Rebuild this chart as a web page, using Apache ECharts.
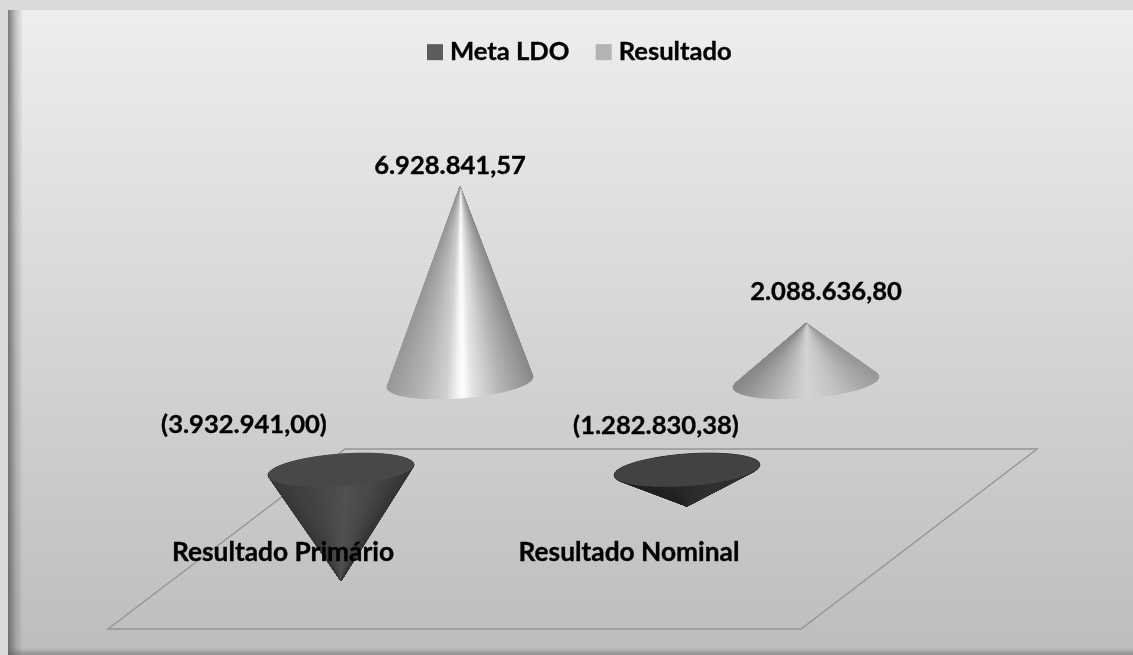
<!DOCTYPE html>
<html>
<head>
<meta charset="utf-8">
<style>html,body{margin:0;padding:0;background:#d9d9d9}#c{width:1133px;height:655px}</style>
<script src="https://cdn.jsdelivr.net/npm/echarts@6/dist/echarts.min.js"></script>
</head>
<body>
<div id="c"></div>
<script>
const categories = ['Resultado Primário', 'Resultado Nominal'];
const metaLDO = [-3932941.00, -1282830.38];
const resultado = [6928841.57, 2088636.80];

// layout and style constants
const FONT = '"Lato","Open Sans",sans-serif';
const labelOffsets = {
  'Meta LDO': [[-97, -156], [-31, -80]],
  'Resultado': [[-10, -21], [20, -31]]
};
const RX_RATIO = 73 / 346, RY = 16, TILT = -4.3 * Math.PI / 180;
const bodyStops = {
  'Resultado': [
    [[0, 0x98], [0.23, 0xb4], [0.40, 0xd0], [0.48, 0xf4], [0.52, 0xff], [0.58, 0xe4], [0.78, 0xb4], [1, 0x88]],
    [[0, 0x88], [0.25, 0xae], [0.5, 0xd4], [0.72, 0xc0], [1, 0x98]]
  ],
  'Meta LDO': [
    [[0, 0x38], [0.35, 0x48], [0.55, 0x50], [0.8, 0x46], [1, 0x36]],
    [[0, 0x20], [0.5, 0x28], [1, 0x30]]
  ]
};
const grey = s => { const h = Math.round(s).toString(16).padStart(2, '0'); return '#' + h + h + h; };
const capFill = [grey(0x48), grey(0x42)];

function shade(stops, f) {
  f = Math.max(0, Math.min(1, f));
  for (let k = 1; k < stops.length; k++) {
    if (f <= stops[k][0]) {
      const [a, ga] = stops[k - 1], [b, gb] = stops[k];
      return grey(ga + (gb - ga) * (f - a) / (b - a));
    }
  }
  return grey(stops[stops.length - 1][1]);
}

function formatValue(v) {
  const parts = Math.abs(v).toFixed(2).split('.');
  const s = parts[0].replace(/\B(?=(\d{3})+$)/g, '.') + ',' + parts[1];
  return v < 0 ? '(' + s + ')' : s;
}

function coneItem(name) {
  return function (params, api) {
    const i = api.value(0), v = api.value(1);
    const base = api.coord([i, 0]), apex = api.coord([i, v]);
    const rx = api.size([1, 0])[0] * RX_RATIO;
    const cos = Math.cos(TILT), sin = Math.sin(TILT);
    const pt = t => {
      const a = rx * Math.cos(t), b = RY * Math.sin(t);
      return [base[0] + a * cos - b * sin, base[1] + a * sin + b * cos];
    };
    const dx = apex[0] - base[0], dy = apex[1] - base[1];
    const u = (dx * cos + dy * sin) / rx, w = (-dx * sin + dy * cos) / RY;
    const th = Math.atan2(w, u), phi = Math.acos(1 / Math.hypot(u, w));
    const N = 90, children = [];
    for (let k = 0; k < N; k++) {
      const p = pt(th + phi + (2 * Math.PI - 2 * phi) * k / N);
      const q = pt(th + phi + (2 * Math.PI - 2 * phi) * (k + 1) / N);
      const col = shade(bodyStops[name][i], ((p[0] + q[0]) / 2 - base[0] + rx) / (2 * rx));
      children.push({
        type: 'polygon', shape: { points: [apex, p, q] },
        style: { fill: col, stroke: col, lineWidth: 0.9 }
      });
    }
    if (v < 0) {
      const cap = [];
      for (let k = 0; k < 120; k++) cap.push(pt(2 * Math.PI * k / 120));
      children.push({ type: 'polygon', shape: { points: cap }, style: { fill: capFill[i] } });
    }
    const off = labelOffsets[name][i];
    children.push({
      type: 'text',
      style: {
        text: formatValue(v), x: apex[0] + off[0], y: apex[1] + off[1],
        align: 'center', verticalAlign: 'middle',
        font: 'bold 25.6px ' + FONT, fill: '#000', stroke: '#000', lineWidth: 0.35
      }
    });
    return { type: 'group', children };
  };
}

const hiddenX = g => ({ type: 'category', gridIndex: g, data: categories, show: false });
const hiddenY = g => ({ type: 'value', gridIndex: g, min: -4000000, max: 8000000, interval: 2000000, show: false });

const option = {
  animation: false,
  textStyle: { fontFamily: FONT },
  graphic: [
    { type: 'rect', z: -10, silent: true, shape: { x: 8, y: 10, width: 1125, height: 645 },
      style: { fill: new echarts.graphic.LinearGradient(0, 0, 0, 1, [{ offset: 0, color: '#eeeeee' }, { offset: 1, color: '#bdbdbd' }]) } },
    { type: 'rect', z: -9, silent: true, shape: { x: 8, y: 10, width: 15, height: 645 },
      style: { fill: new echarts.graphic.LinearGradient(0, 0, 1, 0, [{ offset: 0, color: 'rgba(90,90,90,0.8)' }, { offset: 0.5, color: 'rgba(90,90,90,0.3)' }, { offset: 1, color: 'rgba(90,90,90,0)' }]) } },
    { type: 'rect', z: -9, silent: true, shape: { x: 8, y: 648, width: 1125, height: 7 },
      style: { fill: new echarts.graphic.LinearGradient(0, 0, 0, 1, [{ offset: 0, color: 'rgba(90,90,90,0)' }, { offset: 1, color: 'rgba(90,90,90,0.45)' }]) } },
    { type: 'polygon', z: -5, silent: true,
      shape: { points: [[345, 449], [1037, 449], [801, 629], [108, 629]] },
      style: { fill: 'transparent', stroke: '#959595', lineWidth: 1.4 } }
  ],
  legend: {
    left: 422, top: 34, itemWidth: 16, itemHeight: 16, itemGap: 26,
    icon: 'rect',
    data: ['Meta LDO', 'Resultado'],
    textStyle: { fontFamily: FONT, fontWeight: 'bold', fontSize: 25.6, color: '#000', padding: [4, 0, 0, 2], textBorderColor: '#000', textBorderWidth: 0.35 }
  },
  grid: [
    { left: 168, width: 692, top: 244.4, height: 338.4 },
    { left: 287, width: 692, top: 156.4, height: 338.4 },
    { left: 110, width: 692, top: 440, height: 100 }
  ],
  xAxis: [hiddenX(0), hiddenX(1), {
    type: 'category', gridIndex: 2, data: categories, z: 10,
    axisLine: { show: false }, axisTick: { show: false },
    axisLabel: { show: true, interval: 0, margin: 0, color: '#000', fontFamily: FONT, fontWeight: 'bold', fontSize: 26.3, textBorderColor: '#000', textBorderWidth: 0.35 }
  }],
  yAxis: [hiddenY(0), hiddenY(1), { type: 'value', gridIndex: 2, min: 0, max: 1, show: false }],
  series: [
    { name: 'Meta LDO', type: 'custom', xAxisIndex: 0, yAxisIndex: 0, clip: false, z: 3,
      itemStyle: { color: '#5c5c5c' }, encode: { x: 0, y: 1 },
      data: metaLDO.map((v, i) => [i, v]), renderItem: coneItem('Meta LDO') },
    { name: 'Resultado', type: 'custom', xAxisIndex: 1, yAxisIndex: 1, clip: false, z: 2,
      itemStyle: { color: '#b3b3b3' }, encode: { x: 0, y: 1 },
      data: resultado.map((v, i) => [i, v]), renderItem: coneItem('Resultado') }
  ]
};
echarts.init(document.getElementById('c'), null, { renderer: 'canvas' }).setOption(option);
</script>
</body>
</html>
